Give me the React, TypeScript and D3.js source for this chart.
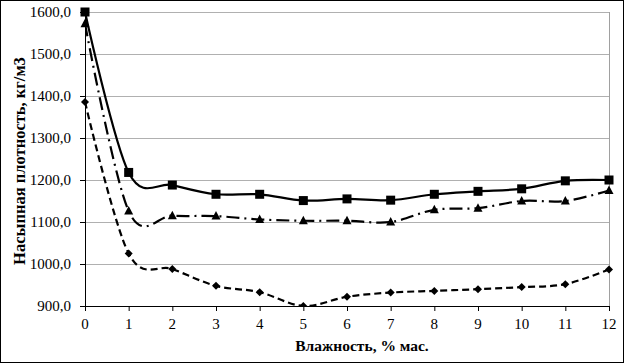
import React from 'react';
import * as d3 from 'd3';

const moisture = [0, 1, 2, 3, 4, 5, 6, 7, 8, 9, 10, 11, 12];
const squareSeries = [1600, 1218, 1188, 1166, 1166, 1151, 1155, 1152, 1166, 1173, 1179, 1198, 1200];
const triangleSeries = [1572, 1126, 1115, 1114, 1106, 1103, 1103, 1100, 1129, 1133, 1150, 1150, 1175];
const diamondSeries = [1386, 1025, 988, 948, 933, 900, 922, 932, 936, 940, 945, 952, 987];
const yTicks = [900, 1000, 1100, 1200, 1300, 1400, 1500, 1600];

const W = 624;
const H = 363;
const left = 85;
const right = 609;
const top = 12;
const bottom = 306;
const FONT = '"Liberation Serif", "Times New Roman", serif';

const App = () => {
    const x = d3.scaleLinear().domain([0, 12]).range([left, right]);
    const y = d3.scaleLinear().domain([900, 1600]).range([bottom, top]);

    const line = d3.line<number>()
        .x((d, i) => x(moisture[i]))
        .y(d => y(d))
        .curve(d3.curveCatmullRom.alpha(0));

    const square = (cx: number, cy: number, k: string) =>
        <rect key={k} x={cx - 4.5} y={cy - 4.5} width={9} height={9} fill="#000"/>;
    const triangle = (cx: number, cy: number, k: string) =>
        <path key={k} d={`M${cx},${cy - 5}L${cx + 4.5},${cy + 3.5}L${cx - 4.5},${cy + 3.5}Z`} fill="#000"/>;
    const diamond = (cx: number, cy: number, k: string) =>
        <path key={k} d={`M${cx},${cy - 4}L${cx + 4},${cy}L${cx},${cy + 4}L${cx - 4},${cy}Z`} fill="#000"/>;

    return (
        <svg width={W} height={H} style={{position: 'absolute', left: 0, top: 0, background: '#fff'}}>
            <defs>
                <clipPath id="plot">
                    <rect x={left} y={top - 6} width={right - left + 6} height={bottom - top + 6}/>
                </clipPath>
                <clipPath id="marks">
                    <rect x={left - 6} y={top - 6} width={right - left + 12} height={bottom - top + 6}/>
                </clipPath>
            </defs>
            <rect x={0.5} y={0.5} width={W - 1} height={H - 1} fill="#fff" stroke="#000"/>

            {/* gridlines */}
            {yTicks.filter(t => t > 900).map(t =>
                <line key={t} x1={left} x2={right} y1={y(t) + 0.5} y2={y(t) + 0.5} stroke="#b0b0b0"/>
            )}
            <line x1={right + 0.5} x2={right + 0.5} y1={top} y2={bottom} stroke="#a0a0a0"/>

            {/* axes */}
            <line x1={left + 0.5} x2={left + 0.5} y1={top} y2={bottom + 0.5} stroke="#000"/>
            <line x1={left} x2={right + 1} y1={bottom + 0.5} y2={bottom + 0.5} stroke="#000"/>
            {yTicks.map(t =>
                <g key={t}>
                    <line x1={left - 5} x2={left} y1={y(t) + 0.5} y2={y(t) + 0.5} stroke="#000"/>
                    <text x={left - 14} y={y(t)} dy="0.35em" textAnchor="end" fontFamily={FONT} fontSize={15}>
                        {d3.format('.1f')(t).replace('.', ',')}
                    </text>
                </g>
            )}
            {moisture.map(m =>
                <g key={m}>
                    <line x1={x(m) + 0.5} x2={x(m) + 0.5} y1={bottom} y2={bottom + 5} stroke="#000"/>
                    <text x={x(m)} y={324} dy="0.35em" textAnchor="middle" fontFamily={FONT} fontSize={15}>{m}</text>
                </g>
            )}

            {/* series */}
            <g clipPath="url(#plot)" fill="none" stroke="#000">
                <path d={line(squareSeries) ?? ''} strokeWidth={2.2}/>
                <path d={line(triangleSeries) ?? ''} strokeWidth={2.2} strokeDasharray="13,5,2,5"/>
                <path d={line(diamondSeries) ?? ''} strokeWidth={2.2} strokeDasharray="7,4"/>
            </g>
            <g clipPath="url(#marks)">
                {squareSeries.map((v, i) => square(x(moisture[i]), y(v), 's' + i))}
                {triangleSeries.map((v, i) => triangle(x(moisture[i]), y(v), 't' + i))}
                {diamondSeries.map((v, i) => diamond(x(moisture[i]), y(v), 'd' + i))}
            </g>

            <text x={362} y={346} dy="0.35em" textAnchor="middle" fontFamily={FONT} fontSize={15.5} fontWeight="bold">
                Влажность, % мас.
            </text>
            <text transform={`translate(19,161) rotate(-90)`} dy="0.35em" textAnchor="middle" fontFamily={FONT}
                  fontSize={16.5} fontWeight="bold">
                Насыпная плотность, кг/м3
            </text>
        </svg>
    );
};

export default App;
